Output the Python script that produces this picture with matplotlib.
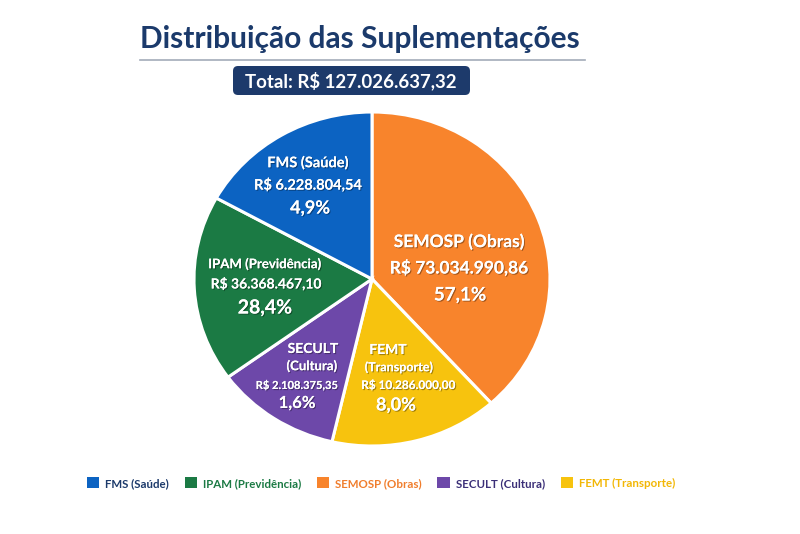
import matplotlib
matplotlib.use("Agg")
import matplotlib.pyplot as plt
import matplotlib.patheffects as pe
from matplotlib.patches import FancyBboxPatch, Rectangle
from matplotlib.lines import Line2D

plt.rcParams['font.family'] = ['Lato', 'DejaVu Sans']

# dados (ordem da legenda)
orgaos = ["FMS (Saúde)", "IPAM (Previdência)", "SEMOSP (Obras)", "SECULT (Cultura)", "FEMT (Transporte)"]
valores = ["R$ 6.228.804,54", "R$ 36.368.467,10", "R$ 73.034.990,86", "R$ 2.108.375,35", "R$ 10.286.000,00"]
percentuais = ["4,9%", "28,4%", "57,1%", "1,6%", "8,0%"]
# abertura de cada fatia tal como aparece no desenho (graus)
fatias = [61, 65, 138, 41, 55]
cores = ["#0c63c2", "#1b7a44", "#f8842c", "#6d48a9", "#f7c30e"]
cores_legenda = ["#1c3a6b", "#1b7a44", "#f07d2c", "#3b2f78", "#f2b705"]
titulo = "Distribuição das Suplementações"
total = "Total: R$ 127.026.637,32"

# sentido horário a partir do topo
ordem = [2, 4, 3, 1, 0]

W, H = 800, 534
fig = plt.figure(figsize=(8, 5.34), dpi=100)
fig.patch.set_facecolor("white")

# centro do pizza (px) e raios
cx, cy, rx, ry = 372, 279, 178, 167
ax = fig.add_axes([(cx - rx) / W, (H - cy - ry) / H, 2 * rx / W, 2 * ry / H])
wedges, _ = ax.pie([fatias[i] for i in ordem], colors=[cores[i] for i in ordem],
                   startangle=90, counterclock=False, radius=1,
                   wedgeprops=dict(edgecolor="white", linewidth=2.2))
ax.set_aspect("auto")
ax.set_xlim(-1, 1)
ax.set_ylim(-1, 1)
ax.axis("off")

sombra = [pe.withSimplePatchShadow(offset=(0.8, -0.8), shadow_rgbFace="black", alpha=0.35), pe.Normal()]

def rotulo(txt, px, py, size):
    ax.text((px - cx) / rx, (cy - py) / ry, txt, ha="center", va="center",
            fontsize=size, fontweight="bold", color="white", path_effects=sombra)

# FMS
rotulo(orgaos[0], 308, 163, 10.5)
rotulo(valores[0], 308, 185, 10.5)
rotulo(percentuais[0], 310, 208, 13)
# SEMOSP
rotulo(orgaos[2], 459, 242, 12.5)
rotulo(valores[2], 459, 268, 12.5)
rotulo(percentuais[2], 460, 295, 13.5)
# IPAM
rotulo(orgaos[1], 265, 264, 9.5)
rotulo(valores[1], 266, 284, 10)
rotulo(percentuais[1], 265, 308, 14)
# SECULT
rotulo("SECULT", 313, 349, 10)
rotulo("(Cultura)", 312, 366, 9.5)
rotulo(valores[3], 297, 385, 8)
rotulo(percentuais[3], 297, 403, 12)
# FEMT
rotulo("FEMT", 388, 350, 10)
rotulo("(Transporte)", 399, 367, 9)
rotulo(valores[4], 408, 385, 8.5)
rotulo(percentuais[4], 396, 405, 13)

# título
fig.text(360 / W, 1 - 48 / H, titulo, ha="center", va="baseline",
         fontsize=21.5, fontweight="bold", color="#1b3a6b")
fig.add_artist(Line2D([140 / W, 585 / W], [1 - 60 / H] * 2, color="#a3abb9", lw=1.2))

# caixa do total
caixa = FancyBboxPatch((2.33, (H - 95) / 100), 2.37, 0.29,
                       boxstyle="round,pad=0,rounding_size=0.05",
                       transform=fig.dpi_scale_trans, fc="#1d3a6b", ec="none")
fig.add_artist(caixa)
fig.text(351 / W, 1 - 81 / H, total, ha="center", va="center",
         fontsize=13.4, fontweight="bold", color="white")

# legenda
handles = [Rectangle((0, 0), 1, 1, fc=c, ec="none") for c in cores]
fig.legend(handles, orgaos, loc="center", bbox_to_anchor=(381 / W, 1 - 483 / H),
           ncol=5, frameon=False, labelcolor=cores_legenda,
           prop=dict(size=8.3, weight="bold"), handlelength=1.1, handleheight=1.1,
           handletextpad=0.5, columnspacing=1.35)

fig.savefig("out.png", dpi=100, facecolor="white")
